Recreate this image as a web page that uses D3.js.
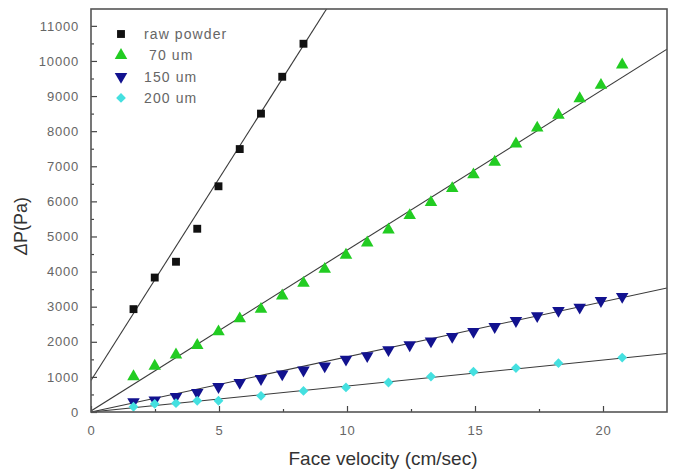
<!DOCTYPE html>
<html>
<head>
<meta charset="utf-8">
<script src="https://cdn.jsdelivr.net/npm/d3@7"></script>
<style>
  body { margin: 0; background: #fff; }
  text { font-family: "Liberation Sans", Arial, sans-serif; }
</style>
</head>
<body>
<div id="chart"></div>
<script>
// data
const seriesNames = ["raw powder", " 70 um", "150 um", "200 um"];

const rawX = [1.66, 2.49, 3.32, 4.15, 4.98, 5.81, 6.64, 7.47, 8.3];
const rawY = [2930, 3830, 4280, 5220, 6430, 7490, 8500, 9550, 10490];

const um70X = [1.66, 2.49, 3.32, 4.15, 4.98, 5.81, 6.64, 7.47, 8.3, 9.13, 9.96, 10.79,
  11.62, 12.45, 13.28, 14.11, 14.94, 15.77, 16.6, 17.43, 18.26, 19.09, 19.92, 20.75];
const um70Y = [1010, 1310, 1630, 1900, 2290, 2660, 2930, 3310, 3670, 4070, 4470, 4820,
  5190, 5600, 5970, 6370, 6760, 7120, 7640, 8090, 8460, 8930, 9310, 9890];

const um150X = um70X;
const um150Y = [290, 340, 440, 550, 720, 840, 950, 1080, 1190, 1310, 1500, 1600,
  1770, 1910, 2020, 2150, 2290, 2430, 2600, 2740, 2890, 2980, 3170, 3290];

const um200X = [1.66, 2.49, 3.32, 4.15, 4.98, 6.64, 8.3, 9.96, 11.62, 13.28, 14.94, 16.6, 18.26, 20.75];
const um200Y = [150, 230, 250, 320, 320, 460, 600, 700, 840, 1010, 1150, 1250, 1390, 1550];

// linear fits: [slope, intercept]
const fits = [[1150, 900], [458, 30], [157, 0], [74, 0]];

const xTicks = [0, 5, 10, 15, 20];
const yTicks = d3.range(0, 11001, 1000);

const margin = { top: 9, right: 10, bottom: 59, left: 91 },
  W = 677, H = 471,
  width = W - margin.left - margin.right,
  height = H - margin.top - margin.bottom;

const svg = d3.select("#chart").append("svg").attr("width", W).attr("height", H);
const g = svg.append("g").attr("transform", `translate(${margin.left},${margin.top})`);

const x = d3.scaleLinear().domain([0, 22.5]).range([0, width]);
const y = d3.scaleLinear().domain([0, 11480]).range([height, 0]);

const series = [
  { name: seriesNames[0], xs: rawX, ys: rawY, shape: d3.symbolSquare, size: 62, color: "#111111", rot: 0 },
  { name: seriesNames[1], xs: um70X, ys: um70Y, shape: d3.symbolTriangle, size: 68, color: "#22cc22", rot: 0 },
  { name: seriesNames[2], xs: um150X, ys: um150Y, shape: d3.symbolTriangle, size: 68, color: "#12128f", rot: 180 },
  { name: seriesNames[3], xs: um200X, ys: um200Y, shape: d3.symbolSquare, size: 48, color: "#44e0e0", rot: 45 },
];

// clip for fit lines
svg.append("defs").append("clipPath").attr("id", "plot-clip")
  .append("rect").attr("width", width).attr("height", height);

// fit lines
g.append("g").attr("clip-path", "url(#plot-clip)")
  .selectAll("line")
  .data(fits)
  .join("line")
  .attr("x1", x(0))
  .attr("y1", (d) => y(d[1]))
  .attr("x2", x(22.5))
  .attr("y2", (d) => y(d[0] * 22.5 + d[1]))
  .attr("stroke", "#3a3a3a")
  .attr("stroke-width", 1.1);

// markers
series.forEach((s) => {
  const pts = s.xs.map((v, i) => [v, s.ys[i]]);
  g.append("g")
    .selectAll("path")
    .data(pts)
    .join("path")
    .attr("d", d3.symbol().type(s.shape).size(s.size))
    .attr("transform", (d) => `translate(${x(d[0])},${y(d[1])}) rotate(${s.rot})`)
    .attr("fill", s.color);
});

// axes, ticks pointing inward
const tickCol = "#666";
const xAxis = g.append("g").attr("transform", `translate(0,${height})`)
  .call(d3.axisBottom(x).tickValues(xTicks).tickSize(-6).tickPadding(14).tickFormat(d3.format("d")));
const xMinor = g.append("g").attr("transform", `translate(0,${height})`)
  .call(d3.axisBottom(x).tickValues(d3.range(2.5, 22.5, 5)).tickSize(-3).tickFormat(""));
const yAxis = g.append("g")
  .call(d3.axisLeft(y).tickValues(yTicks).tickSize(-6).tickPadding(12).tickFormat(d3.format("d")));
const yMinor = g.append("g")
  .call(d3.axisLeft(y).tickValues(d3.range(500, 11480, 1000)).tickSize(-3).tickFormat(""));

[xAxis, xMinor, yAxis, yMinor].forEach((a) => {
  a.select(".domain").remove();
  a.selectAll("line").attr("stroke", "#444").attr("stroke-width", 1.2);
  a.selectAll("text").attr("fill", tickCol).style("font-size", "13px").style("letter-spacing", "0.8px");
});

// frame
g.append("rect")
  .attr("width", width).attr("height", height)
  .attr("fill", "none").attr("stroke", "#555").attr("stroke-width", 1.6);

// legend
const legend = g.append("g").attr("transform", "translate(30,25)");
series.forEach((s, i) => {
  const row = legend.append("g").attr("transform", `translate(0,${i * 21.3})`);
  row.append("path")
    .attr("d", d3.symbol().type(s.shape).size(s.size))
    .attr("transform", `rotate(${s.rot})`)
    .attr("fill", s.color);
  row.append("text")
    .attr("x", 23).attr("y", 5)
    .attr("fill", "#666")
    .style("font-size", "14px")
    .style("letter-spacing", "1.1px")
    .style("white-space", "pre")
    .text(s.name);
});

// axis titles
svg.append("text")
  .attr("transform", `translate(27,226) rotate(-90)`)
  .attr("text-anchor", "middle")
  .attr("fill", "#333")
  .style("font-size", "18px")
  .html('<tspan font-style="italic">Δ</tspan>P(Pa)');

svg.append("text")
  .attr("x", 383).attr("y", 465)
  .attr("text-anchor", "middle")
  .attr("fill", "#333")
  .style("font-size", "19px")
  .text("Face velocity (cm/sec)");
</script>
</body>
</html>
